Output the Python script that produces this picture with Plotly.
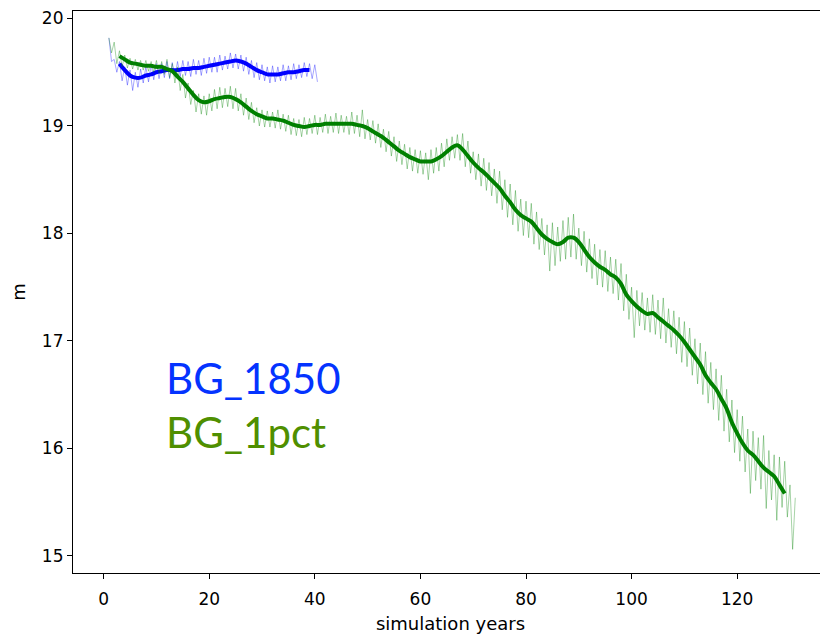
import numpy as np
import plotly.graph_objects as go

# ---------------- data ----------------
# BG_1850 raw series (seasonal highs at whole years, lows at half years)
b1850_hi = [19.82, 19.62, 19.60, 19.55, 19.52, 19.50, 19.53, 19.55, 19.57, 19.58,
            19.58, 19.60, 19.59, 19.60, 19.61, 19.60, 19.62, 19.61, 19.63, 19.64,
            19.64, 19.66, 19.65, 19.68, 19.67, 19.66, 19.64, 19.61, 19.59, 19.57,
            19.55, 19.56, 19.55, 19.57, 19.56, 19.58, 19.57, 19.59, 19.58, 19.57]
b1850_lo = [19.60, 19.50, 19.42, 19.38, 19.33, 19.36, 19.40, 19.41, 19.43, 19.44,
            19.45, 19.44, 19.46, 19.46, 19.47, 19.46, 19.48, 19.47, 19.49, 19.50,
            19.50, 19.52, 19.53, 19.54, 19.53, 19.51, 19.48, 19.45, 19.43, 19.42,
            19.40, 19.41, 19.42, 19.42, 19.43, 19.44, 19.45, 19.46, 19.44, 19.41]

# BG_1850 smoothed
b1850_smooth_years = list(range(3, 40))
b1850_smooth = [19.58, 19.52, 19.47, 19.45, 19.45, 19.47, 19.48, 19.50, 19.51, 19.52,
                19.52, 19.52, 19.53, 19.53, 19.54, 19.54, 19.55, 19.56, 19.57, 19.58,
                19.59, 19.60, 19.61, 19.60, 19.58, 19.55, 19.52, 19.50, 19.48, 19.48,
                19.48, 19.49, 19.50, 19.50, 19.51, 19.52, 19.52]

# BG_1pct raw series
b1pct_hi = [19.82, 19.78, 19.70, 19.66, 19.63, 19.62, 19.61, 19.61, 19.60, 19.61,
            19.60, 19.62, 19.58, 19.55, 19.48, 19.40, 19.33, 19.30, 19.28, 19.30,
            19.34, 19.36, 19.35, 19.37, 19.35, 19.30, 19.26, 19.22, 19.17, 19.15,
            19.14, 19.13, 19.15, 19.11, 19.10, 19.07, 19.06, 19.08, 19.07, 19.10,
            19.08, 19.11, 19.09, 19.12, 19.10, 19.09, 19.13, 19.10, 19.15, 19.06,
            19.05, 19.02, 18.97, 18.95, 18.90, 18.86, 18.83, 18.80, 18.78, 18.77,
            18.75, 18.78, 18.80, 18.84, 18.88, 18.90, 18.92, 18.93, 18.86, 18.76,
            18.74, 18.70, 18.66, 18.60, 18.58, 18.50, 18.46, 18.40, 18.32, 18.30,
            18.28, 18.20, 18.14, 18.08, 18.10, 18.06, 18.12, 18.15, 18.18, 18.05,
            18.02, 17.95, 17.90, 17.85, 17.84, 17.78, 17.76, 17.72, 17.62, 17.50,
            17.47, 17.45, 17.40, 17.43, 17.38, 17.40, 17.30, 17.28, 17.22, 17.18,
            17.12, 17.02, 16.98, 16.90, 16.80, 16.74, 16.68, 16.55, 16.45, 16.36,
            16.30, 16.18, 16.16, 16.10, 16.12, 15.98, 15.94, 15.92, 15.88, 15.66,
            15.54]
b1pct_lo = [19.68, 19.58, 19.55, 19.54, 19.53, 19.52, 19.52, 19.51, 19.50, 19.49,
            19.48, 19.45, 19.40, 19.33, 19.26, 19.20, 19.13, 19.11, 19.10, 19.14,
            19.16, 19.17, 19.18, 19.16, 19.14, 19.10, 19.06, 19.03, 19.00, 18.99,
            18.99, 18.98, 18.97, 18.95, 18.92, 18.91, 18.90, 18.92, 18.93, 18.92,
            18.94, 18.93, 18.94, 18.93, 18.94, 18.92, 18.93, 18.90, 18.88, 18.87,
            18.84, 18.80, 18.76, 18.72, 18.67, 18.64, 18.60, 18.58, 18.56, 18.55,
            18.50, 18.56, 18.58, 18.62, 18.68, 18.70, 18.68, 18.62, 18.56, 18.50,
            18.44, 18.40, 18.35, 18.28, 18.22, 18.15, 18.08, 18.02, 17.98, 17.96,
            17.90, 17.85, 17.80, 17.65, 17.70, 17.74, 17.76, 17.78, 17.76, 17.70,
            17.64, 17.58, 17.52, 17.50, 17.46, 17.44, 17.38, 17.28, 17.20, 17.03,
            17.14, 17.10, 17.08, 17.06, 17.02, 16.98, 16.94, 16.88, 16.80, 16.76,
            16.68, 16.60, 16.50, 16.42, 16.36, 16.26, 16.16, 16.06, 15.96, 15.88,
            15.78, 15.58, 15.70, 15.62, 15.44, 15.52, 15.33, 15.45, 15.36, 15.06]

# BG_1pct smoothed
b1pct_smooth_years = list(range(3, 130))
b1pct_smooth = [19.65, 19.62, 19.59, 19.58, 19.57, 19.56, 19.56, 19.55, 19.55, 19.53,
                19.51, 19.46, 19.41, 19.35, 19.29, 19.24, 19.22, 19.23, 19.25, 19.26,
                19.27, 19.27, 19.25, 19.22, 19.18, 19.14, 19.11, 19.09, 19.07, 19.07,
                19.06, 19.05, 19.03, 19.01, 19.00, 18.99, 19.00, 19.01, 19.01, 19.02,
                19.02, 19.02, 19.02, 19.02, 19.02, 19.01, 19.00, 18.98, 18.95, 18.92,
                18.89, 18.85, 18.81, 18.77, 18.74, 18.71, 18.69, 18.67, 18.67, 18.67,
                18.69, 18.72, 18.76, 18.80, 18.82, 18.78, 18.72, 18.66, 18.61, 18.57,
                18.52, 18.47, 18.42, 18.35, 18.29, 18.22, 18.17, 18.14, 18.11, 18.05,
                17.99, 17.95, 17.92, 17.90, 17.92, 17.96, 17.96, 17.92, 17.85, 17.78,
                17.73, 17.69, 17.66, 17.62, 17.59, 17.53, 17.43, 17.37, 17.32, 17.28,
                17.25, 17.26, 17.22, 17.18, 17.14, 17.10, 17.05, 16.99, 16.92, 16.85,
                16.78, 16.68, 16.61, 16.55, 16.46, 16.37, 16.24, 16.14, 16.05, 15.98,
                15.94, 15.88, 15.82, 15.78, 15.74, 15.66, 15.58]

x_ticks = [0, 20, 40, 60, 80, 100, 120]
y_ticks = [15, 16, 17, 18, 19, 20]


def interleave(hi, lo):
    xs, ys = [], []
    for i, h in enumerate(hi):
        xs.append(i + 1.0)
        ys.append(h)
        if i < len(lo):
            xs.append(i + 1.5)
            ys.append(lo[i])
    return xs, ys


bx, by = interleave(b1850_hi, b1850_lo)
gx, gy = interleave(b1pct_hi, b1pct_lo)

fig = go.Figure()
fig.add_trace(go.Scatter(x=bx, y=by, mode="lines",
                         line=dict(color="rgba(0,0,255,0.5)", width=0.7)))
fig.add_trace(go.Scatter(x=b1850_smooth_years, y=b1850_smooth, mode="lines",
                         line=dict(color="#0000ff", width=4, shape="spline")))
fig.add_trace(go.Scatter(x=gx, y=gy, mode="lines",
                         line=dict(color="rgba(0,128,0,0.5)", width=0.7)))
fig.add_trace(go.Scatter(x=b1pct_smooth_years, y=b1pct_smooth, mode="lines",
                         line=dict(color="#008000", width=4, shape="spline")))

fig.add_annotation(text="BG_1850", xref="paper", yref="paper", x=0.1205, y=0.347,
                   xanchor="left", yanchor="middle", showarrow=False,
                   font=dict(family="Lato", size=42, color="#0433ff"))
fig.add_annotation(text="BG_1pct", xref="paper", yref="paper", x=0.1205, y=0.251,
                   xanchor="left", yanchor="middle", showarrow=False,
                   font=dict(family="Lato", size=42, color="#4f8f00"))

axis_common = dict(showgrid=False, zeroline=False, showline=True, linecolor="black",
                   linewidth=1.2, ticks="outside", ticklen=5, tickwidth=1.2,
                   tickcolor="black", ticklabeloverflow="allow",
                   tickfont=dict(family="DejaVu Sans", size=17, color="black"))

fig.update_layout(
    width=820, height=630,
    margin=dict(l=65, r=0, t=1, b=65),
    paper_bgcolor="white", plot_bgcolor="white",
    showlegend=False,
    xaxis=dict(range=[-5.8, 137.2], tickvals=x_ticks, mirror=True,
               ticklabelstandoff=5,
               title=dict(text="simulation years", standoff=9,
                          font=dict(family="DejaVu Sans", size=18, color="black")),
               **axis_common),
    yaxis=dict(range=[14.84, 20.07], tickvals=y_ticks,
               title=dict(text="m", standoff=18,
                          font=dict(family="DejaVu Sans", size=18, color="black")),
               **axis_common),
)

fig.write_html("out.html")
